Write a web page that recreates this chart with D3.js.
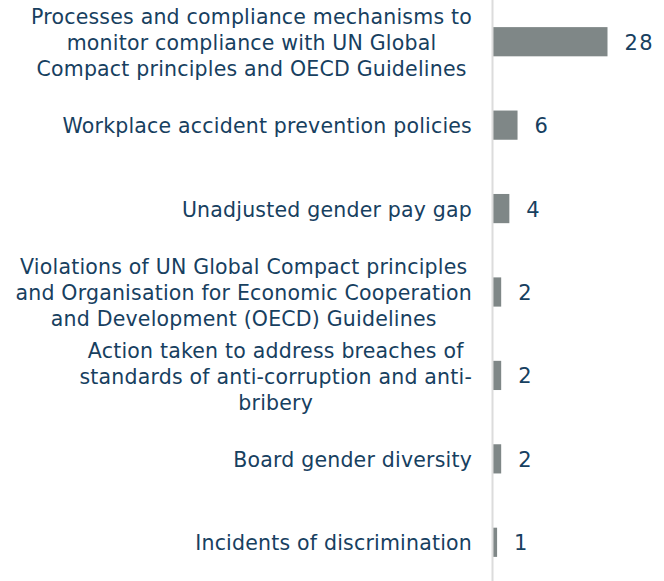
<!DOCTYPE html>
<html>
<head>
<meta charset="utf-8">
<script src="https://cdn.jsdelivr.net/npm/d3@7"></script>
<style>
  html, body { margin: 0; padding: 0; background: #ffffff; }
  svg { display: block; }
</style>
</head>
<body>
<div id="chart"></div>
<script>
// Sustainability indicators: number of companies reporting each metric
const categories = [
  "Processes and compliance mechanisms to\nmonitor compliance with UN Global\nCompact principles and OECD Guidelines",
  "Workplace accident prevention policies",
  "Unadjusted gender pay gap",
  "Violations of UN Global Compact principles\nand Organisation for Economic Cooperation\nand Development (OECD) Guidelines",
  "Action taken to address breaches of\nstandards of anti-corruption and anti-\nbribery",
  "Board gender diversity",
  "Incidents of discrimination"
];
const counts = [28, 6, 4, 2, 2, 2, 1];

const width = 664, height = 581;
const axisX = 493;
const labelRight = 472;
const fontFamily = "'DejaVu Sans', sans-serif";
const textColor = "#17405f";
const barColor = "#7f8787";

const svg = d3.select("#chart").append("svg")
  .attr("width", width)
  .attr("height", height);

const y = d3.scaleBand()
  .domain(categories)
  .range([0, 584])
  .paddingInner(0.65)
  .paddingOuter(0.325);

const x = d3.scaleLinear()
  .domain([0, 28])
  .range([axisX, axisX + 114.5]);

// Bars
svg.append("g").selectAll("rect")
  .data(categories)
  .join("rect")
  .attr("x", x(0))
  .attr("y", d => y(d))
  .attr("width", (d, i) => x(counts[i]) - x(0))
  .attr("height", y.bandwidth())
  .attr("fill", barColor);

// Vertical baseline
svg.append("line")
  .attr("x1", axisX - 0.5).attr("x2", axisX - 0.5)
  .attr("y1", 0).attr("y2", height)
  .attr("stroke", "#dcdcdc")
  .attr("stroke-width", 2);

// Value labels
svg.append("g").selectAll("text")
  .data(categories)
  .join("text")
  .attr("x", (d, i) => x(counts[i]) + 17)
  .attr("y", d => y(d) + y.bandwidth() / 2)
  .attr("dy", "0.38em")
  .attr("font-family", fontFamily)
  .attr("font-size", 21)
  .attr("letter-spacing", 1.5)
  .attr("fill", textColor)
  .text((d, i) => counts[i]);

// Category labels: each block centred, with its widest line ending at labelRight
const lineHeight = 26;
const labels = svg.append("g")
  .attr("font-family", fontFamily)
  .attr("font-size", 20.5)
  .attr("letter-spacing", 0.2)
  .attr("fill", textColor);

categories.forEach(cat => {
  const lines = cat.split("\n");
  const cy = y(cat) + y.bandwidth() / 2;
  const t = labels.append("text").attr("text-anchor", "middle");
  lines.forEach((ln, k) => {
    t.append("tspan")
      .attr("y", cy + (k - (lines.length - 1) / 2) * lineHeight)
      .attr("dy", "0.4em")
      .text(ln);
  });
  const maxW = d3.max(t.selectAll("tspan").nodes(), n => n.getComputedTextLength());
  t.selectAll("tspan").attr("x", labelRight - maxW / 2);
});
</script>
</body>
</html>
